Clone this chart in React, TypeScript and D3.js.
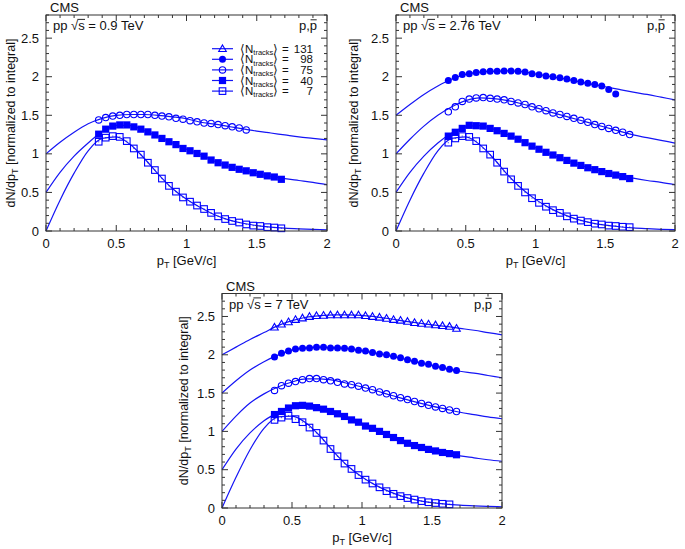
import React from "react";
import * as d3 from "d3";

// ---------- data ----------
const X_BINS = [0.375, 0.425, 0.475, 0.525, 0.575, 0.625, 0.675, 0.725, 0.775, 0.825, 0.875, 0.925, 0.975, 1.025, 1.075, 1.125, 1.175, 1.225, 1.275, 1.325, 1.375, 1.425, 1.475, 1.525, 1.575, 1.625, 1.675];
const CURVE_X = [0, 0.1, 0.2, 0.3, 0.4, 0.5, 0.6, 0.7, 0.8, 0.9, 1.0, 1.1, 1.2, 1.3, 1.4, 1.5, 1.6, 1.7, 1.8, 1.9, 2.0];
const X_TICKS = [0, 0.5, 1, 1.5, 2];
const X_TICK_LABELS = ["0", "0.5", "1", "1.5", "2"];
const Y_TICKS = [0, 0.5, 1, 1.5, 2, 2.5];
const Y_TICK_LABELS = ["0", "0.5", "1", "1.5", "2", "2.5"];
const ENERGIES = ["0.9", "2.76", "7"];
const N_TRACKS = ["131", "98", "75", "40", "7"];

// 0.9 TeV
const pts09_n7 = [1.157, 1.21, 1.23, 1.22, 1.165, 1.07, 0.99, 0.885, 0.79, 0.68, 0.585, 0.51, 0.435, 0.38, 0.33, 0.285, 0.235, 0.19, 0.155, 0.13, 0.11, 0.085, 0.07, 0.065, 0.05, 0.045, 0.035];
const pts09_n40 = [1.255, 1.32, 1.36, 1.375, 1.375, 1.35, 1.32, 1.285, 1.245, 1.2, 1.157, 1.12, 1.07, 1.04, 1.005, 0.97, 0.92, 0.885, 0.855, 0.825, 0.8, 0.78, 0.755, 0.735, 0.715, 0.7, 0.67];
const pts09_n75 = [1.44, 1.47, 1.49, 1.5, 1.51, 1.51, 1.51, 1.51, 1.5, 1.49, 1.48, 1.46, 1.45, 1.43, 1.415, 1.4, 1.395, 1.38, 1.365, 1.35, 1.335, 1.31];
const fit09_n7 = [0, 0.4, 0.75, 1.04, 1.2, 1.22, 1.12, 0.94, 0.735, 0.55, 0.41, 0.305, 0.21, 0.145, 0.1, 0.07, 0.05, 0.037, 0.028, 0.021, 0.016];
const fit09_n40 = [0.5, 0.76, 0.97, 1.14, 1.29, 1.37, 1.365, 1.3, 1.22, 1.14, 1.06, 0.99, 0.905, 0.84, 0.79, 0.745, 0.71, 0.68, 0.655, 0.63, 0.6];
const fit09_n75 = [1.0, 1.15, 1.28, 1.39, 1.46, 1.5, 1.51, 1.51, 1.5, 1.48, 1.455, 1.41, 1.385, 1.355, 1.325, 1.295, 1.27, 1.245, 1.22, 1.2, 1.18];

// 2.76 TeV
const pts276_n7 = [1.145, 1.2, 1.23, 1.22, 1.165, 1.07, 0.99, 0.885, 0.77, 0.67, 0.585, 0.5, 0.425, 0.365, 0.315, 0.27, 0.235, 0.19, 0.16, 0.135, 0.115, 0.095, 0.085, 0.07, 0.065, 0.055, 0.05];
const pts276_n40 = [1.23, 1.28, 1.33, 1.37, 1.365, 1.36, 1.33, 1.3, 1.265, 1.23, 1.19, 1.145, 1.1, 1.06, 1.02, 0.985, 0.95, 0.915, 0.88, 0.85, 0.82, 0.795, 0.77, 0.745, 0.725, 0.705, 0.68];
const pts276_n75 = [1.545, 1.61, 1.68, 1.71, 1.725, 1.73, 1.72, 1.71, 1.7, 1.68, 1.66, 1.64, 1.61, 1.585, 1.56, 1.53, 1.51, 1.485, 1.46, 1.435, 1.41, 1.38, 1.355, 1.33, 1.305, 1.28, 1.25];
const pts276_n98 = [1.95, 1.99, 2.03, 2.04, 2.055, 2.065, 2.07, 2.07, 2.075, 2.075, 2.07, 2.06, 2.04, 2.025, 2.01, 2.0, 1.985, 1.97, 1.95, 1.93, 1.915, 1.9, 1.88, 1.835, 1.775];
const fit276_n7 = [0, 0.4, 0.75, 1.04, 1.2, 1.22, 1.12, 0.94, 0.73, 0.55, 0.41, 0.3, 0.215, 0.15, 0.105, 0.075, 0.055, 0.04, 0.03, 0.022, 0.017];
const fit276_n40 = [0.5, 0.76, 0.97, 1.14, 1.27, 1.35, 1.365, 1.32, 1.25, 1.17, 1.08, 1.0, 0.93, 0.865, 0.81, 0.76, 0.72, 0.685, 0.655, 0.63, 0.6];
const fit276_n75 = [1.0, 1.19, 1.36, 1.5, 1.61, 1.69, 1.725, 1.715, 1.69, 1.65, 1.6, 1.545, 1.495, 1.445, 1.395, 1.345, 1.295, 1.245, 1.21, 1.175, 1.14];
const fit276_n98 = [1.5, 1.64, 1.77, 1.88, 1.97, 2.03, 2.06, 2.07, 2.075, 2.065, 2.035, 2.005, 1.975, 1.94, 1.905, 1.87, 1.835, 1.8, 1.77, 1.735, 1.7];

// 7 TeV
const pts7_n7 = [1.15, 1.18, 1.205, 1.16, 1.12, 1.05, 0.98, 0.88, 0.77, 0.675, 0.58, 0.51, 0.43, 0.37, 0.32, 0.27, 0.22, 0.185, 0.155, 0.13, 0.11, 0.09, 0.075, 0.065, 0.055, 0.048];
const pts7_n40 = [1.22, 1.26, 1.305, 1.335, 1.34, 1.33, 1.31, 1.29, 1.26, 1.23, 1.195, 1.15, 1.12, 1.07, 1.04, 1.0, 0.96, 0.92, 0.88, 0.845, 0.815, 0.79, 0.765, 0.745, 0.725, 0.71, 0.695];
const pts7_n75 = [1.535, 1.597, 1.63, 1.65, 1.675, 1.69, 1.69, 1.675, 1.66, 1.64, 1.62, 1.61, 1.59, 1.565, 1.545, 1.515, 1.49, 1.465, 1.44, 1.415, 1.39, 1.365, 1.34, 1.32, 1.3, 1.28, 1.26];
const pts7_n98 = [1.97, 2.02, 2.05, 2.075, 2.085, 2.09, 2.1, 2.1, 2.09, 2.09, 2.085, 2.075, 2.06, 2.05, 2.03, 2.01, 2.0, 1.98, 1.96, 1.935, 1.915, 1.89, 1.875, 1.85, 1.835, 1.81, 1.795];
const pts7_n131 = [2.36, 2.4, 2.43, 2.46, 2.48, 2.5, 2.51, 2.515, 2.52, 2.52, 2.52, 2.52, 2.52, 2.51, 2.5, 2.49, 2.475, 2.46, 2.45, 2.435, 2.42, 2.41, 2.4, 2.39, 2.38, 2.37, 2.345];
const fit7_n7 = [0, 0.4, 0.76, 1.04, 1.19, 1.2, 1.11, 0.94, 0.73, 0.545, 0.405, 0.295, 0.21, 0.145, 0.1, 0.07, 0.05, 0.037, 0.028, 0.021, 0.016];
const fit7_n40 = [0.5, 0.77, 0.98, 1.14, 1.245, 1.32, 1.34, 1.3, 1.245, 1.175, 1.095, 1.02, 0.94, 0.865, 0.8, 0.755, 0.715, 0.68, 0.655, 0.63, 0.61];
const fit7_n75 = [1.0, 1.2, 1.37, 1.49, 1.58, 1.645, 1.685, 1.685, 1.665, 1.625, 1.58, 1.53, 1.475, 1.425, 1.375, 1.33, 1.29, 1.25, 1.22, 1.19, 1.165];
const fit7_n98 = [1.5, 1.66, 1.8, 1.91, 1.995, 2.06, 2.09, 2.1, 2.09, 2.08, 2.05, 2.02, 1.985, 1.945, 1.9, 1.86, 1.82, 1.785, 1.76, 1.73, 1.7];
const fit7_n131 = [2.0, 2.1, 2.2, 2.29, 2.38, 2.445, 2.49, 2.51, 2.52, 2.52, 2.515, 2.495, 2.47, 2.44, 2.415, 2.39, 2.37, 2.345, 2.32, 2.29, 2.26];

// ---------- styling ----------
const BLUE = "#0000ff";
const LINE = "#1515f5";
const FONT = "'Liberation Sans', Arial, Helvetica, sans-serif";
const TXT = "#111";

type MarkerKind = "triOpen" | "circFill" | "circOpen" | "sqFill" | "sqOpen";
const MARKER_OF: Record<string, MarkerKind> = {
  "131": "triOpen", "98": "circFill", "75": "circOpen", "40": "sqFill", "7": "sqOpen",
};

function Marker({ kind, cx, cy }: { kind: MarkerKind; cx: number; cy: number }) {
  const sw = 1.1;
  switch (kind) {
    case "circFill":
      return <circle cx={cx} cy={cy} r={3.5} fill={BLUE} />;
    case "circOpen":
      return <circle cx={cx} cy={cy} r={3.2} fill="none" stroke={BLUE} strokeWidth={sw} />;
    case "sqFill":
      return <rect x={cx - 3.6} y={cy - 3.6} width={7.2} height={7.2} fill={BLUE} />;
    case "sqOpen":
      return (
        <g>
          <rect x={cx - 3.3} y={cy - 3.3} width={6.6} height={6.6} fill="none" stroke={BLUE} strokeWidth={sw} />
          <rect x={cx - 0.6} y={cy - 0.6} width={1.2} height={1.2} fill={BLUE} opacity={0.6} />
        </g>
      );
    case "triOpen": {
      const s = 3.8;
      const p = `M${cx},${cy - s} L${cx + s},${cy + s * 0.75} L${cx - s},${cy + s * 0.75} Z`;
      return <path d={p} fill="none" stroke={BLUE} strokeWidth={sw} />;
    }
  }
  return null;
}

interface Series { n: string; pts: number[]; fit: number[]; }
interface PanelCfg {
  energy: string; left: number; right: number; top: number; bottom: number;
  ylabX: number; legend: boolean; series: Series[];
}

const PANELS: PanelCfg[] = [
  {
    energy: ENERGIES[0], left: 46, right: 327, top: 15, bottom: 231, ylabX: 10, legend: true,
    series: [
      { n: "75", pts: pts09_n75, fit: fit09_n75 },
      { n: "40", pts: pts09_n40, fit: fit09_n40 },
      { n: "7", pts: pts09_n7, fit: fit09_n7 },
    ],
  },
  {
    energy: ENERGIES[1], left: 396, right: 675, top: 15, bottom: 231, ylabX: 353, legend: false,
    series: [
      { n: "98", pts: pts276_n98, fit: fit276_n98 },
      { n: "75", pts: pts276_n75, fit: fit276_n75 },
      { n: "40", pts: pts276_n40, fit: fit276_n40 },
      { n: "7", pts: pts276_n7, fit: fit276_n7 },
    ],
  },
  {
    energy: ENERGIES[2], left: 222, right: 502, top: 293.5, bottom: 508, ylabX: 183, legend: false,
    series: [
      { n: "131", pts: pts7_n131, fit: fit7_n131 },
      { n: "98", pts: pts7_n98, fit: fit7_n98 },
      { n: "75", pts: pts7_n75, fit: fit7_n75 },
      { n: "40", pts: pts7_n40, fit: fit7_n40 },
      { n: "7", pts: pts7_n7, fit: fit7_n7 },
    ],
  },
];

const FS = 13; // main font size (Liberation Sans = Arial metrics)

function Panel({ p }: { p: PanelCfg }) {
  const x = d3.scaleLinear().domain([0, 2]).range([p.left, p.right]);
  const y = d3.scaleLinear().domain([0, 2.8]).range([p.bottom, p.top]);
  const line = d3
    .line<number>()
    .x((_, i) => x(CURVE_X[i]))
    .y((d) => y(d))
    .curve(d3.curveMonotoneX);

  const xMinor = x.ticks(20);
  const yMinor = y.ticks(28);
  const major = 6;
  const minor = 3;
  const tickColor = "#333";

  const midX = (p.left + p.right) / 2;
  const midY = (p.top + p.bottom) / 2;

  // header text geometry (Arial metrics: p=.556em, space/comma=.278em, radical=.549em, s=.5em)
  const hx = p.left + 7;
  const hy = p.top + 15;
  const sqrtStart = hx + (0.556 * 2 + 0.278) * FS;
  const sStart = sqrtStart + 0.549 * FS;
  const sEnd = sStart + 0.5 * FS;
  const ppEnd = p.right - 10;
  const pBarStart = ppEnd - 0.556 * FS;

  return (
    <g>
      {/* curves */}
      {p.series.map((s) => (
        <path key={"f" + s.n} d={line(s.fit) || ""} fill="none" stroke={LINE} strokeWidth={1.2} />
      ))}
      {/* markers */}
      {p.series.map((s) => (
        <g key={"m" + s.n}>
          {s.pts.map((v, i) => (
            <Marker key={i} kind={MARKER_OF[s.n]} cx={x(X_BINS[i])} cy={y(v)} />
          ))}
        </g>
      ))}
      {/* frame */}
      <rect x={p.left} y={p.top} width={p.right - p.left} height={p.bottom - p.top} fill="none" stroke="#333" strokeWidth={1} />
      {/* ticks x */}
      {xMinor.map((t, i) => {
        const isMajor = X_TICKS.some((m) => Math.abs(m - t) < 1e-9);
        const L = isMajor ? major : minor;
        return (
          <g key={"xt" + i}>
            <line x1={x(t)} x2={x(t)} y1={p.bottom} y2={p.bottom - L} stroke={tickColor} strokeWidth={1} />
            <line x1={x(t)} x2={x(t)} y1={p.top} y2={p.top + L} stroke={tickColor} strokeWidth={1} />
          </g>
        );
      })}
      {yMinor.map((t, i) => {
        const isMajor = Y_TICKS.some((m) => Math.abs(m - t) < 1e-9);
        const L = isMajor ? major : minor;
        return (
          <g key={"yt" + i}>
            <line x1={p.left} x2={p.left + L} y1={y(t)} y2={y(t)} stroke={tickColor} strokeWidth={1} />
            <line x1={p.right} x2={p.right - L} y1={y(t)} y2={y(t)} stroke={tickColor} strokeWidth={1} />
          </g>
        );
      })}
      {/* tick labels */}
      {X_TICKS.map((t, i) => (
        <text key={"xl" + i} x={x(t)} y={p.bottom + 17} textAnchor="middle" fontSize={FS} fill={TXT}>
          {X_TICK_LABELS[i]}
        </text>
      ))}
      {Y_TICKS.map((t, i) => (
        <text key={"yl" + i} x={p.left - 7} y={y(t) + 4.6} textAnchor="end" fontSize={FS} fill={TXT}>
          {Y_TICK_LABELS[i]}
        </text>
      ))}
      {/* axis titles */}
      <text x={midX} y={p.bottom + 34} textAnchor="middle" fontSize={FS} fill={TXT}>
        p<tspan fontSize={9} dy={3}>T</tspan>
        <tspan dy={-3}> [GeV/c]</tspan>
      </text>
      <text
        transform={`translate(${p.ylabX},${midY}) rotate(-90)`}
        x={0}
        y={4.5}
        textAnchor="middle"
        fontSize={12.5}
        fill={TXT}
      >
        dN/dp<tspan fontSize={9} dy={3}>T</tspan>
        <tspan dy={-3}> [normalized to integral]</tspan>
      </text>
      {/* labels */}
      <text x={p.left + 4} y={p.top - 3} fontSize={FS} fill={TXT}>CMS</text>
      <text x={hx} y={hy} fontSize={FS} fill={TXT}>
        {`pp \u221As = ${p.energy} TeV`}
      </text>
      <line x1={sStart - 0.8} x2={sEnd + 0.3} y1={hy - 10.6} y2={hy - 10.6} stroke={TXT} strokeWidth={0.9} />
      <text x={ppEnd} y={hy} textAnchor="end" fontSize={FS} fill={TXT}>
        p,p
      </text>
      <line x1={pBarStart + 0.8} x2={ppEnd - 0.3} y1={hy - 10.2} y2={hy - 10.2} stroke={TXT} strokeWidth={0.9} />
      {p.legend && (
        <g>
          {N_TRACKS.map((n, i) => {
            const ry = 48.7 + i * 10.6;
            return (
              <g key={"lg" + n}>
                <line x1={212} x2={233} y1={ry} y2={ry} stroke={LINE} strokeWidth={1.2} />
                <Marker kind={MARKER_OF[n]} cx={222.5} cy={ry} />
                <text x={240} y={ry + 4} fontSize={11.5} fill={TXT}>
                  ⟨N<tspan fontSize={7.5} dy={2.3}>tracks</tspan>
                  <tspan dy={-2.3}>⟩</tspan>
                </text>
                <text x={282} y={ry + 4} fontSize={11.5} fill={TXT}>=</text>
                <text x={313} y={ry + 4} textAnchor="end" fontSize={11.5} fill={TXT}>{n}</text>
              </g>
            );
          })}
        </g>
      )}
    </g>
  );
}

export default function App() {
  return (
    <svg
      width={685}
      height={549}
      viewBox="0 0 685 549"
      style={{ position: "absolute", left: 0, top: 0, display: "block", background: "#fff" }}
      fontFamily={FONT}
    >
      <rect x={0} y={0} width={685} height={549} fill="#fff" />
      {PANELS.map((p, i) => (
        <Panel key={i} p={p} />
      ))}
    </svg>
  );
}
